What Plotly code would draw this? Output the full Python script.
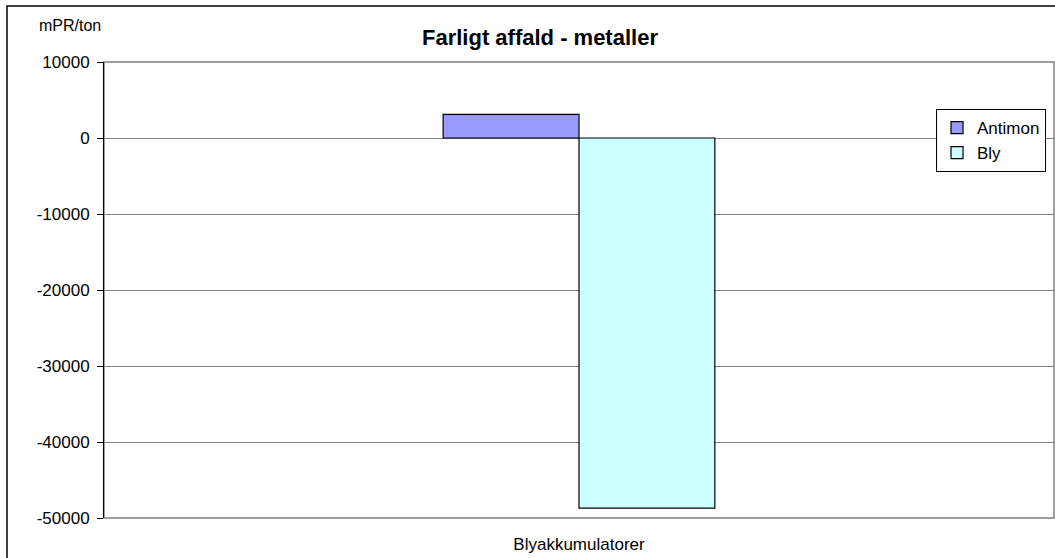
import plotly.graph_objects as go

categories = ["Blyakkumulatorer"]
series_names = ["Antimon", "Bly"]
antimon_values = [3100]
bly_values = [-48700]
y_ticks = [10000, 0, -10000, -20000, -30000, -40000, -50000]

colors = {"Antimon": "#9999FF", "Bly": "#CCFFFF"}

fig = go.Figure()
for name, vals in zip(series_names, [antimon_values, bly_values]):
    fig.add_trace(go.Bar(
        x=categories, y=vals, name=name,
        marker=dict(color=colors[name], line=dict(color="#000000", width=1.2)),
    ))

L, R, T, B = 104, 1, 62, 40
W, H = 1055, 558
pw, ph = W - L - R, H - T - B

def px_x(p):
    return (p - L) / pw

def px_y(p):
    return (H - B - p) / ph

fig.update_layout(
    width=W, height=H,
    margin=dict(l=L, r=R, t=T, b=B, autoexpand=False),
    paper_bgcolor="white", plot_bgcolor="white",
    font=dict(family="Liberation Sans, Arial, sans-serif", size=17, color="#000000"),
    barmode="group", bargap=0.714, bargroupgap=0,
    title=dict(text="<b>Farligt affald - metaller</b>", x=px_x(540), xref="paper",
               xanchor="center", y=1 - 37 / H, yanchor="middle", yref="container",
               font=dict(size=22, color="#000000")),
    showlegend=True,
    legend=dict(x=px_x(936), y=px_y(109), xanchor="left", yanchor="top",
                bgcolor="white", bordercolor="#000000", borderwidth=1,
                font=dict(size=17), tracegroupgap=4, traceorder="normal",
                itemwidth=30),
    xaxis=dict(showgrid=False, showline=False, ticks="", ticklabelstandoff=14,
               zeroline=False, mirror=False),
    yaxis=dict(range=[-50000, 10000], tickvals=y_ticks, ticktext=[str(v) for v in y_ticks],
               showgrid=True, gridcolor="#808080", gridwidth=1,
               zeroline=True, zerolinecolor="#808080", zerolinewidth=1,
               showline=True, linecolor="#000000", linewidth=1,
               ticks="outside", ticklen=6, tickcolor="#000000", ticklabelstandoff=4),
    shapes=[
        dict(type="rect", xref="paper", yref="paper", x0=0, x1=1, y0=0, y1=1,
             line=dict(color="#808080", width=1.5), fillcolor="rgba(0,0,0,0)", layer="below"),
        dict(type="rect", xref="paper", yref="paper", x0=px_x(7), x1=1.2, y0=-0.3, y1=px_y(6),
             line=dict(color="#000000", width=1.5), fillcolor="rgba(0,0,0,0)", layer="below"),
    ],
    annotations=[
        dict(text="mPR/ton", xref="paper", yref="paper", x=px_x(70), y=px_y(26),
             xanchor="center", yanchor="middle", showarrow=False, font=dict(size=16)),
    ],
)

fig.write_html("out.html", config={"displayModeBar": False},
               post_script="document.body.style.margin='0';document.body.style.overflow='hidden';")
